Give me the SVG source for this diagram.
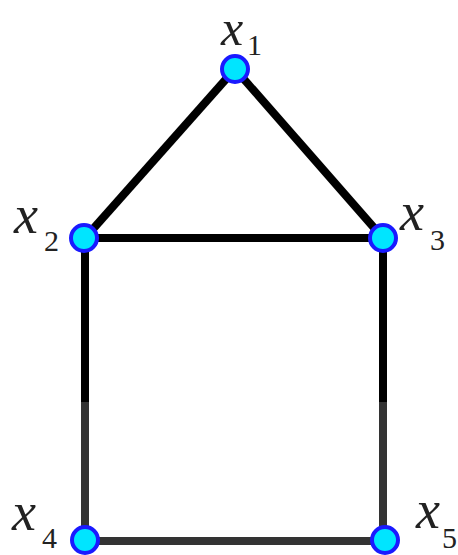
<svg xmlns="http://www.w3.org/2000/svg" width="458" height="555" viewBox="0 0 458 555">
<style>
.e{stroke:#000;stroke-width:8;stroke-linecap:butt;fill:none}
.g{stroke:#333;stroke-width:8;fill:none}
.n{fill:#00e5ff;stroke:#1a1aff;stroke-width:4}
text{font-family:"Liberation Serif","Times New Roman",serif;fill:#222}
.v{font-style:italic;font-size:54px}
.s{font-size:30px}
</style>
<rect width="458" height="555" fill="#fff"/>
<g id="edges">
<line class="e" x1="235" y1="69" x2="85" y2="238"/>
<line class="e" x1="235" y1="69" x2="383" y2="238"/>
<line class="e" x1="85" y1="238" x2="383" y2="238"/>
<line class="e" x1="85" y1="238" x2="85" y2="402"/>
<line class="g" x1="85" y1="402" x2="85" y2="540"/>
<line class="e" x1="383" y1="238" x2="383" y2="402"/>
<line class="g" x1="383" y1="402" x2="383" y2="540"/>
<line class="g" x1="85" y1="541" x2="385" y2="541"/>
</g>
<g id="x1"><circle class="n" cx="235" cy="69" r="13"/><text class="v" x="221" y="45" style="font-size:50px">x</text><text class="s" x="247" y="55">1</text></g>
<g id="x2"><circle class="n" cx="84" cy="238" r="13"/><text class="v" x="14" y="233">x</text><text class="s" x="44" y="251">2</text></g>
<g id="x3"><circle class="n" cx="383" cy="238" r="13"/><text class="v" x="400" y="230">x</text><text class="s" x="430" y="250">3</text></g>
<g id="x4"><circle class="n" cx="85" cy="540" r="13"/><text class="v" x="12" y="530">x</text><text class="s" x="42" y="548">4</text></g>
<g id="x5"><circle class="n" cx="385" cy="540" r="13"/><text class="v" x="416" y="528">x</text><text class="s" x="442" y="548">5</text></g>
</svg>
